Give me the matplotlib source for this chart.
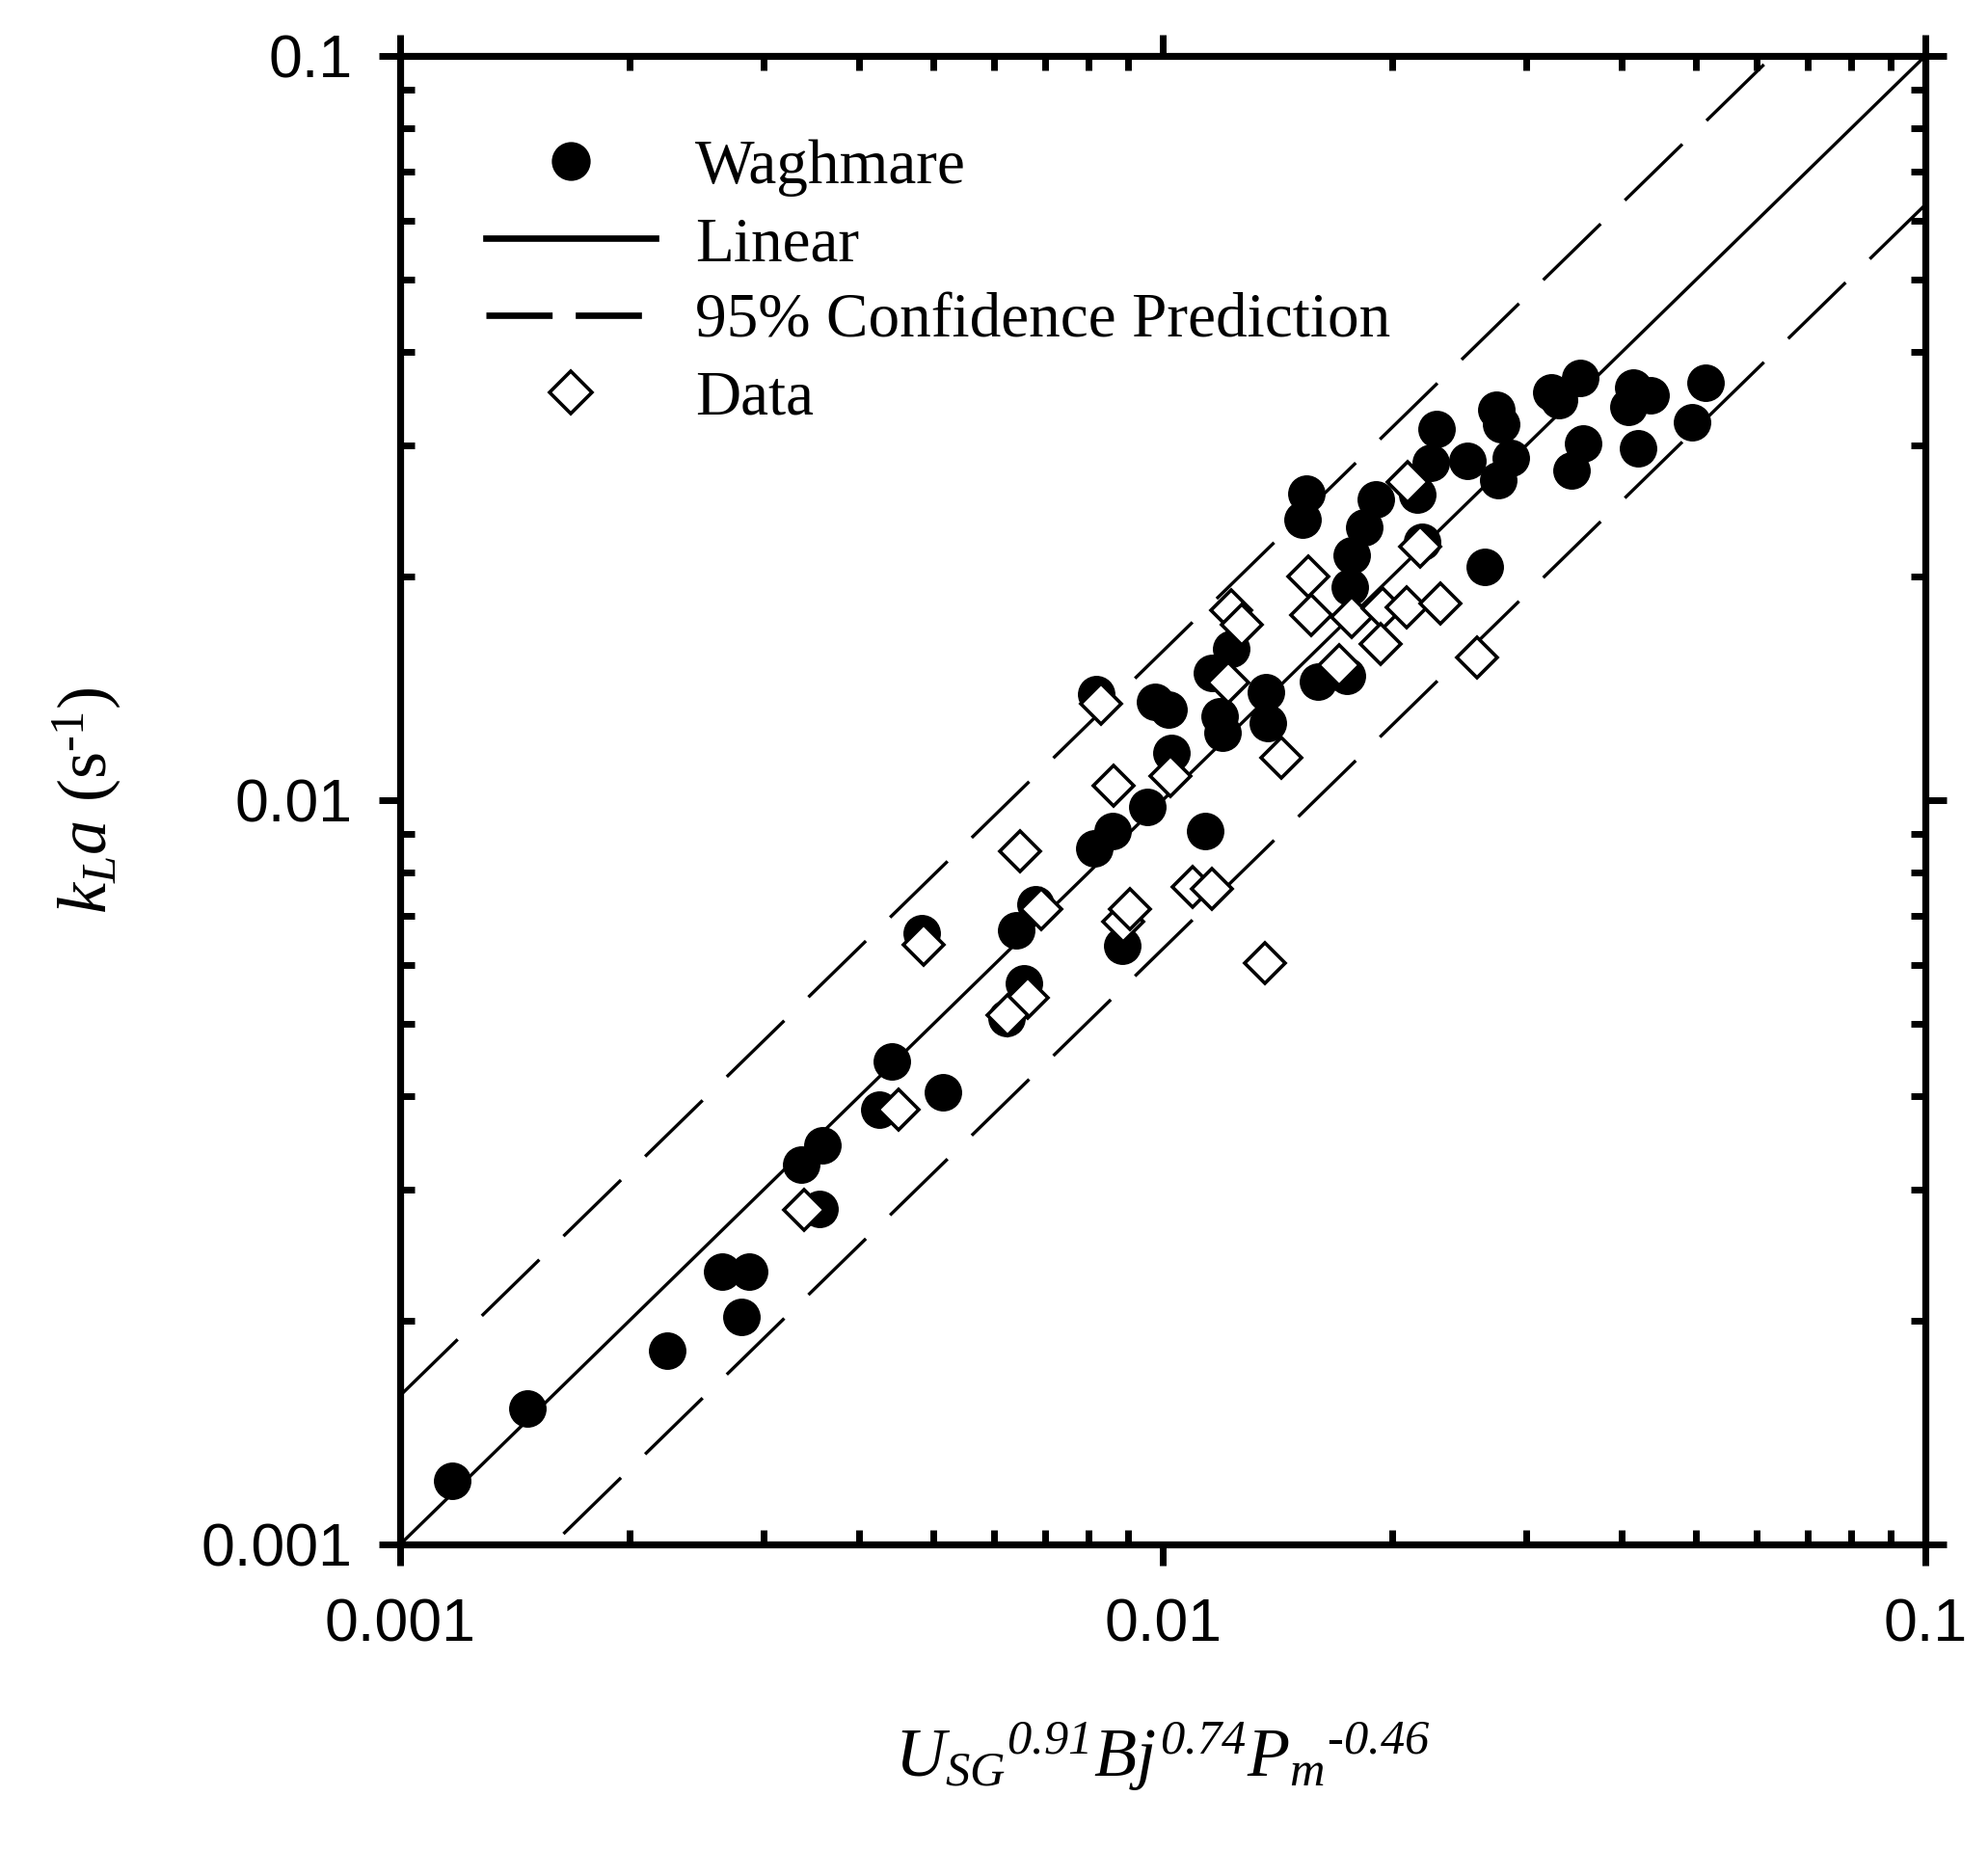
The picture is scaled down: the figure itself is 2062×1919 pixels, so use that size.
import matplotlib
matplotlib.use("Agg")
import matplotlib.pyplot as plt
from matplotlib.lines import Line2D
from matplotlib.ticker import FixedLocator, FixedFormatter, LogLocator, NullFormatter

# Waghmare correlation points (filled circles)
waghmare_x = [1.171e-3, 1.470e-3, 2.242e-3, 2.645e-3, 2.867e-3, 2.804e-3, 3.357e-3, 3.573e-3,
              3.549e-3, 4.251e-3, 4.415e-3, 5.141e-3, 4.832e-3, 6.427e-3, 6.80e-3, 6.574e-3,
              6.231e-3, 8.137e-3, 8.585e-3, 9.55e-3, 1.137e-2, 8.84e-3, 1.027e-2, 9.78e-3,
              1.017e-2, 8.18e-3, 1.188e-2, 1.199e-2, 1.160e-2, 1.229e-2, 1.367e-2, 1.374e-2,
              1.598e-2, 1.743e-2, 1.541e-2, 1.525e-2, 1.902e-2, 1.839e-2, 1.769e-2, 1.760e-2,
              2.288e-2, 2.243e-2, 2.509e-2, 2.738e-2, 2.778e-2, 2.860e-2, 2.751e-2, 2.158e-2,
              3.228e-2, 3.308e-2, 3.524e-2, 4.135e-2, 4.363e-2, 4.074e-2, 5.144e-2, 4.949e-2,
              3.559e-2, 3.440e-2, 4.196e-2, 2.190e-2, 2.647e-2]
waghmare_y = [1.216e-3, 1.521e-3, 1.819e-3, 2.328e-3, 2.328e-3, 2.023e-3, 3.238e-3, 3.437e-3,
              2.826e-3, 3.841e-3, 4.451e-3, 4.050e-3, 6.63e-3, 6.69e-3, 7.244e-3, 5.68e-3,
              5.089e-3, 8.62e-3, 9.10e-3, 9.80e-3, 9.10e-3, 6.365e-3, 1.156e-2, 1.355e-2,
              1.322e-2, 1.389e-2, 1.296e-2, 1.233e-2, 1.482e-2, 1.597e-2, 1.396e-2, 1.270e-2,
              1.445e-2, 1.467e-2, 2.585e-2, 2.380e-2, 2.534e-2, 2.329e-2, 2.130e-2, 1.932e-2,
              3.155e-2, 2.842e-2, 2.856e-2, 3.347e-2, 3.200e-2, 2.884e-2, 2.691e-2, 2.572e-2,
              3.535e-2, 3.449e-2, 3.697e-2, 3.588e-2, 3.500e-2, 3.381e-2, 3.642e-2, 3.217e-2,
              3.015e-2, 2.772e-2, 2.971e-2, 2.225e-2, 2.057e-2]

# measured data (open diamonds)
data_x = [3.381e-3, 4.503e-3, 4.851e-3, 6.92e-3, 6.650e-3, 6.262e-3, 6.49e-3, 8.63e-3,
          8.88e-3, 9.06e-3, 1.094e-2, 1.160e-2, 1.361e-2, 1.024e-2, 1.432e-2, 8.30e-3,
          1.229e-2, 1.271e-2, 1.217e-2, 1.552e-2, 1.564e-2, 1.769e-2, 1.940e-2, 2.086e-2,
          1.931e-2, 1.701e-2, 2.097e-2, 2.177e-2, 2.310e-2, 2.583e-2]
data_y = [2.812e-3, 3.833e-3, 6.40e-3, 7.14e-3, 5.42e-3, 5.14e-3, 8.53e-3, 1.046e-2,
          6.86e-3, 7.14e-3, 7.65e-3, 7.61e-3, 6.04e-3, 1.078e-2, 1.141e-2, 1.349e-2,
          1.799e-2, 1.721e-2, 1.438e-2, 1.996e-2, 1.772e-2, 1.763e-2, 1.808e-2, 1.817e-2,
          1.621e-2, 1.519e-2, 2.677e-2, 2.188e-2, 1.835e-2, 1.557e-2]

# parity line and 95% prediction band
line_x = [0.001, 0.1]
line_y = [0.001, 0.1]
upper_y = [0.001585, 0.1585]
lower_y = [0.000631, 0.0631]

ticks = [0.001, 0.01, 0.1]
tick_labels = ["0.001", "0.01", "0.1"]

# rm is italic so the exponents in the x label come out slanted; sf is the upright serif
plt.rcParams["mathtext.fontset"] = "custom"
plt.rcParams["mathtext.rm"] = "Liberation Serif:italic"
plt.rcParams["mathtext.it"] = "Liberation Serif:italic"
plt.rcParams["mathtext.sf"] = "Liberation Serif"
plt.rcParams["mathtext.bf"] = "Liberation Serif:bold"

fig = plt.figure(figsize=(10.31, 9.595), dpi=200)
ax = fig.add_axes([0.2013, 0.1652, 0.7672, 0.8046])

ax.plot(line_x, line_y, color="black", lw=1.2, zorder=2)
ax.plot(line_x, upper_y, color="black", lw=1.2, dashes=(25, 10.5), zorder=2)
ax.plot(line_x, lower_y, color="black", lw=1.2, dashes=(25, 10.5), zorder=2)
ax.plot(waghmare_x, waghmare_y, "o", ms=13.5, mfc="black", mec="black", mew=0.5,
        ls="none", zorder=3)
ax.plot(data_x, data_y, "D", ms=10.5, mfc="white", mec="black", mew=1.3,
        ls="none", zorder=4)

ax.set_xscale("log")
ax.set_yscale("log")
ax.set_xlim(0.001, 0.1)
ax.set_ylim(0.001, 0.1)

for axis in (ax.xaxis, ax.yaxis):
    axis.set_major_locator(FixedLocator(ticks))
    axis.set_major_formatter(FixedFormatter(tick_labels))
    axis.set_minor_locator(LogLocator(base=10, subs=range(2, 10)))
    axis.set_minor_formatter(NullFormatter())

for sp in ax.spines.values():
    sp.set_linewidth(2.6)

ax.tick_params(which="major", direction="out", length=7.8, width=2.5,
               top=True, right=True, labelsize=22.5)
ax.tick_params(which="minor", direction="in", length=5.4, width=2.5,
               top=True, right=True)
ax.tick_params(axis="x", which="major", pad=12)
ax.tick_params(axis="y", which="major", pad=10)
for lab in ax.get_xticklabels() + ax.get_yticklabels():
    lab.set_fontfamily("Liberation Sans")

ax.set_xlabel("$U_{SG}{}^{0.91}Bj^{0.74}P_{m}{}^{\u20100.46}$", fontsize=26)
ax.xaxis.set_label_coords(0.5, -0.118)
ax.set_ylabel("$k_{L}a$ (s$^{\\mathsf{\u20101}}$)", fontsize=26,
              fontfamily="Liberation Serif")
ax.yaxis.set_label_coords(-0.182, 0.5)

handles = [
    Line2D([], [], marker="o", ls="none", ms=13.5, mfc="black", mec="black"),
    Line2D([], [], color="black", lw=2.4),
    Line2D([], [], color="black", lw=2.4, dashes=(10.3, 3.6)),
    Line2D([], [], marker="D", ls="none", ms=11, mfc="white", mec="black", mew=1.3),
]
labels = ["Waghmare", "Linear", "95% Confidence Prediction", "Data"]
ax.legend(handles, labels, loc="upper left", bbox_to_anchor=(0.0563, 0.944),
          frameon=False, borderpad=0, borderaxespad=0, handlelength=2.7,
          handletextpad=0.62, labelspacing=0.31,
          prop={"family": "Liberation Serif", "size": 23.5})

fig.savefig("out.png", dpi=200)
